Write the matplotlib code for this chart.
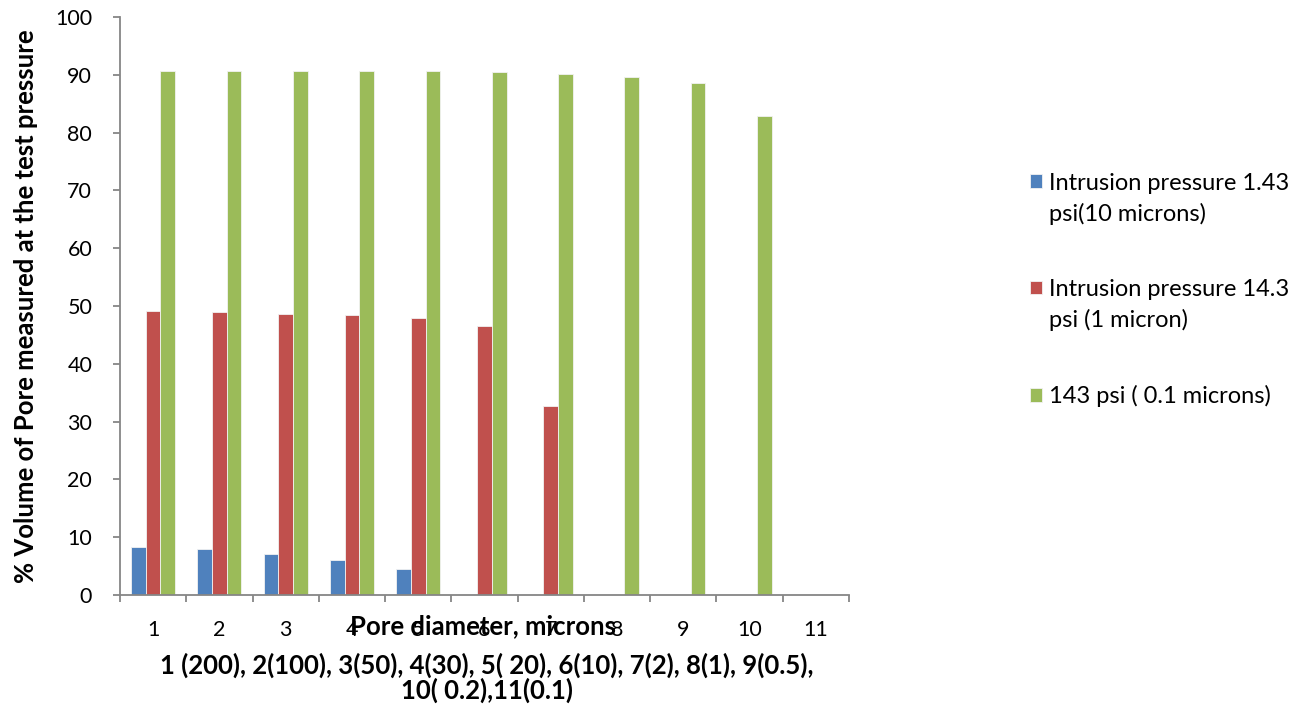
import numpy as np
import matplotlib.pyplot as plt
from matplotlib.patches import Rectangle
from matplotlib.legend_handler import HandlerPatch, update_from_first_child

plt.rcParams['font.family'] = ['Lato', 'DejaVu Sans']

# pore volume (%) measured at each test pressure, categories 1..11
categories = ['1', '2', '3', '4', '5', '6', '7', '8', '9', '10', '11']
low_pressure = [8.35, 7.9, 7.05, 6.0, 4.5, 0, 0, 0, 0, 0, 0]
mid_pressure = [49.1, 48.9, 48.7, 48.4, 47.9, 46.6, 32.7, 0, 0, 0, 0]
high_pressure = [90.6, 90.6, 90.6, 90.6, 90.6, 90.5, 90.2, 89.7, 88.6, 82.9, 0]

series_names = ['Intrusion pressure 1.43\npsi(10 microns)',
                'Intrusion pressure 14.3\npsi (1 micron)',
                '143 psi ( 0.1 microns)']
colors = ['#4F81BD', '#C0504D', '#9BBB59']

fig = plt.figure(figsize=(13.02, 7.04), dpi=100)
ax = fig.add_axes([120 / 1302, 1 - 595 / 704, 729 / 1302, 578 / 704])

x = np.arange(len(categories))
w = 0.222
bars = []
for i, (vals, name, c) in enumerate(zip([low_pressure, mid_pressure, high_pressure], series_names, colors)):
    bars.append(ax.bar(x + (i - 1) * w, vals, width=w, color=c, edgecolor='#f2f2f2',
                       linewidth=0.6, label=name))

axis_grey = '#868686'
ax.set_xlim(-0.5, len(categories) - 0.5)
ax.set_ylim(0, 100)
ax.set_yticks(np.arange(0, 101, 10))
ax.set_xticks(x)
ax.set_xticklabels(categories)
ax.set_xticks(np.arange(-0.5, len(categories)), minor=True)
ax.tick_params(axis='x', which='major', length=0, pad=18, labelsize=15.5)
ax.tick_params(axis='x', which='minor', length=5, width=1.3, color=axis_grey, direction='out')
ax.tick_params(axis='y', length=5, width=1.3, color=axis_grey, direction='out', labelsize=15.5, pad=15)

for side in ['top', 'right']:
    ax.spines[side].set_visible(False)
for side in ['left', 'bottom']:
    ax.spines[side].set_color(axis_grey)
    ax.spines[side].set_linewidth(1.3)

ax.set_ylabel('% Volume of Pore measured at the test pressure', fontsize=18.5, fontweight='bold', labelpad=12)

fig.text(483 / 1302, 1 - 626 / 704, 'Pore diameter, microns', ha='center', va='center',
         fontsize=18.5, fontweight='bold')
fig.text(487 / 1302, 1 - 678 / 704,
         '1 (200), 2(100), 3(50), 4(30), 5( 20), 6(10), 7(2), 8(1), 9(0.5),\n10( 0.2),11(0.1)',
         ha='center', va='center', fontsize=18.5, fontweight='bold', linespacing=1.0)


# legend key squares sit beside the first line of a wrapped label
def first_line_square(legend, orig_handle, xdescent, ydescent, width, height, fontsize):
    lines = orig_handle.get_label().count('\n')
    shift = lines * 0.5 * 1.5 * fontsize
    return Rectangle((-xdescent, -ydescent + shift), width, height)


handler = HandlerPatch(patch_func=first_line_square, update_func=update_from_first_child)
leg = ax.legend(loc='center left', bbox_to_anchor=(1030 / 1302, 1 - 290 / 704), bbox_transform=fig.transFigure,
                frameon=False, fontsize=17, handlelength=0.5, handleheight=0.5, handletextpad=0.3,
                labelspacing=2.3, borderpad=0, borderaxespad=0,
                handler_map={b: handler for b in bars})
for t in leg.get_texts():
    t.set_linespacing(1.5)

fig.savefig('out.png', dpi=100)
